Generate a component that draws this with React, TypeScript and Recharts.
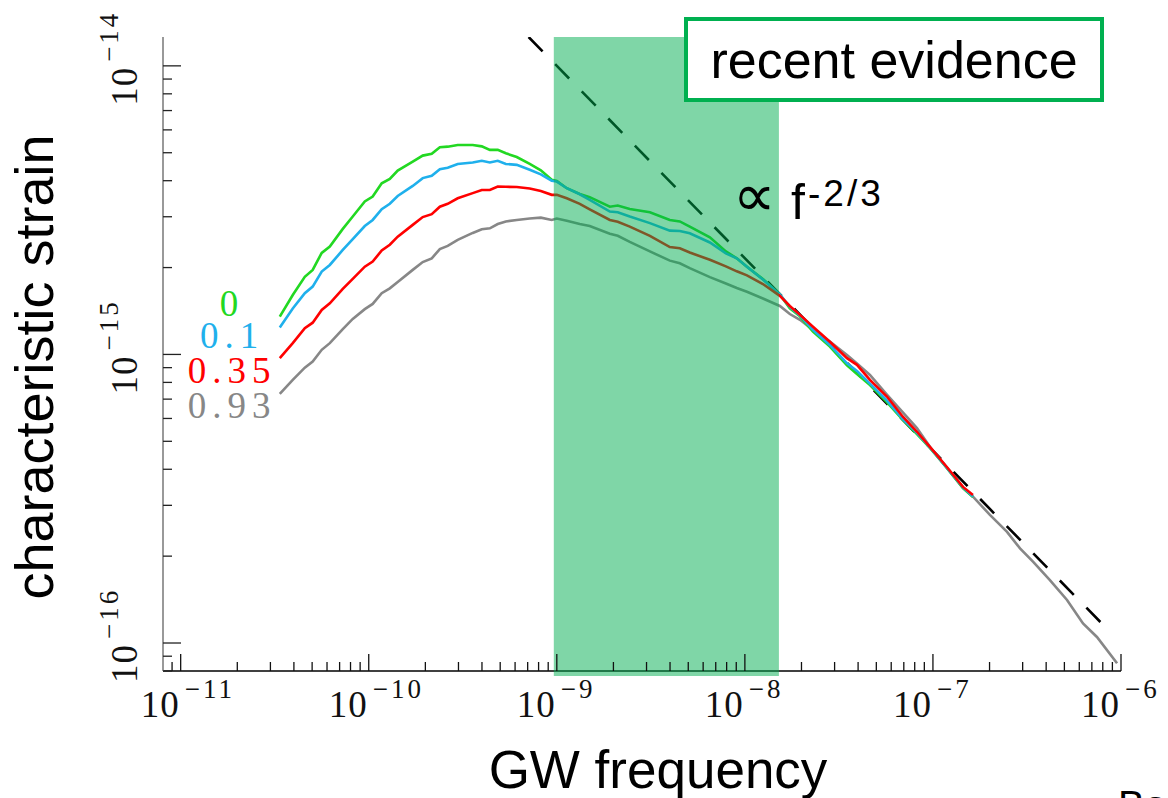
import React from "react";
import { ComposedChart, Line, XAxis, YAxis, ReferenceArea } from "recharts";

// values, stored as log10 (frequency in Hz, characteristic strain)
const logFreq = [
  -10.473, -10.404, -10.34, -10.298, -10.25, -10.207, -10.138, -10.085, -10.021, -9.979,
  -9.931, -9.888, -9.846, -9.766, -9.713, -9.665, -9.622, -9.58, -9.527, -9.447,
  -9.399, -9.356, -9.314, -9.271, -9.213, -9.144, -9.085, -9.027, -9.0, -8.947,
  -8.878, -8.825, -8.718, -8.676, -8.612, -8.505, -8.399, -8.346, -8.293, -8.186,
  -8.101, -8.043, -7.989, -7.904, -7.814, -7.761, -7.707, -7.638, -7.548, -7.457,
  -7.404, -7.335, -7.245, -7.16, -7.085, -7.016, -6.926, -6.84, -6.787, -6.697,
  -6.606, -6.537, -6.468, -6.378, -6.287, -6.202, -6.128, -6.021,
];

// eccentricity 0
const logStrainE0 = [
  -14.869, -14.794, -14.731, -14.707, -14.648, -14.626, -14.565, -14.522, -14.47, -14.453,
  -14.407, -14.392, -14.363, -14.332, -14.311, -14.305, -14.282, -14.28, -14.274, -14.274,
  -14.279, -14.291, -14.291, -14.303, -14.316, -14.34, -14.362, -14.395, -14.399, -14.424,
  -14.444, -14.455, -14.488, -14.484, -14.496, -14.507, -14.534, -14.539, -14.557, -14.594,
  -14.643, -14.667, -14.696, -14.739, -14.792, -14.84, -14.868, -14.921, -14.973, -15.038,
  -15.068, -15.106, -15.165, -15.227, -15.276, -15.324, -15.393, -15.463, -15.494,
];

// eccentricity 0.1
const logStrainE01 = [
  -14.907, -14.841, -14.788, -14.765, -14.713, -14.69, -14.638, -14.6, -14.555, -14.534,
  -14.497, -14.478, -14.451, -14.416, -14.389, -14.381, -14.358, -14.353, -14.34, -14.335,
  -14.329, -14.335, -14.329, -14.34, -14.343, -14.36, -14.376, -14.398, -14.401, -14.424,
  -14.445, -14.464, -14.505, -14.507, -14.522, -14.545, -14.571, -14.572, -14.58, -14.612,
  -14.65, -14.667, -14.696, -14.74, -14.792, -14.835, -14.865, -14.915, -14.967, -15.031,
  -15.057, -15.101, -15.159, -15.224, -15.272, -15.322, -15.392, -15.461, -15.492,
];

// eccentricity 0.35
const logStrainE035 = [
  -15.013, -14.961, -14.909, -14.89, -14.846, -14.823, -14.773, -14.738, -14.696, -14.678,
  -14.64, -14.62, -14.592, -14.551, -14.524, -14.514, -14.488, -14.478, -14.459, -14.441,
  -14.43, -14.43, -14.418, -14.419, -14.42, -14.425, -14.434, -14.447, -14.447, -14.459,
  -14.478, -14.497, -14.534, -14.54, -14.557, -14.589, -14.628, -14.632, -14.647, -14.672,
  -14.695, -14.712, -14.726, -14.756, -14.797, -14.832, -14.863, -14.904, -14.956, -15.013,
  -15.036, -15.088, -15.146, -15.216, -15.268, -15.32, -15.39, -15.459, -15.487,
];

// eccentricity 0.93
const logStrainE093 = [
  -15.137, -15.088, -15.046, -15.025, -14.984, -14.961, -14.912, -14.877, -14.843, -14.825,
  -14.788, -14.771, -14.749, -14.707, -14.68, -14.667, -14.635, -14.624, -14.603, -14.579,
  -14.566, -14.563, -14.548, -14.539, -14.534, -14.529, -14.526, -14.534, -14.529, -14.537,
  -14.548, -14.555, -14.582, -14.589, -14.61, -14.643, -14.675, -14.684, -14.701, -14.732,
  -14.754, -14.77, -14.783, -14.806, -14.832, -14.86, -14.88, -14.915, -14.955, -15.002,
  -15.031, -15.071, -15.139, -15.201, -15.255, -15.32, -15.393, -15.463, -15.493, -15.556,
  -15.615, -15.672, -15.718, -15.782, -15.851, -15.932, -15.979, -16.07,
];

// the f^-2/3 reference line, end points
const logFreqPowerLaw = [-9.15, -6.044];
const logStrainPowerLaw = [-13.9, -15.971];

// "recent evidence" band
const logBandFreq = [-9.016, -7.819];
const logBandStrain = [-16.114, -13.9];

const logFreqDomain = [-11.094, -6];
const logStrainDomain = [-16.097, -13.9];

const freqMajorExp = [-11, -10, -9, -8, -7, -6];
const strainMajorExp = [-16, -15, -14];
const minorMultipliers = [2, 3, 4, 5, 6, 7, 8, 9];

const seriesLabels = ["0", "0.1", "0.35", "0.93"];
const seriesColors = ["#22d822", "#1fb0ec", "#ff0000", "#878787"];

const SERIF = "'Liberation Serif', 'DejaVu Serif', serif";
const SANS = "'Liberation Sans', Arial, 'DejaVu Sans', sans-serif";

const pow = (e: number) => Math.pow(10, e);

const toPoints = (lf: number[], lh: number[]) =>
  lh.map((h, i) => ({ f: pow(lf[i]), h: pow(h) }));

const logTicks = (majors: number[], lo: number, hi: number) => {
  const out: number[] = [];
  for (let n = majors[0] - 1; n <= majors[majors.length - 1]; n++) {
    out.push(pow(n));
    minorMultipliers.forEach((k) => out.push(k * pow(n)));
  }
  return out.filter((v) => v > pow(lo) * 1.0001 && v < pow(hi) * 1.0001);
};

const xTicks = logTicks(freqMajorExp, logFreqDomain[0], logFreqDomain[1]);
const yTicks = logTicks(strainMajorExp, logStrainDomain[0], logStrainDomain[1]);

const isMajor = (v: number) => {
  const l = Math.log10(v);
  return Math.abs(l - Math.round(l)) < 1e-6;
};

const expText = (v: number) => "\u2212" + Math.abs(Math.round(Math.log10(v)));

function BottomTick(props: any) {
  const { x, y, payload } = props;
  const major = isMajor(payload.value);
  return (
    <g>
      <line x1={x} x2={x} y1={y} y2={y - (major ? 17 : 9)} stroke="#111" strokeWidth={1.3} />
      {major && (
        <g fill="#111" fontFamily={SERIF}>
          <text x={x - 1} y={y + 46} textAnchor="end" fontSize={37} letterSpacing={1}>10</text>
          <text x={x + 4} y={y + 27} textAnchor="start" fontSize={27} letterSpacing={3}>
            {expText(payload.value)}
          </text>
        </g>
      )}
    </g>
  );
}

function TopTick(props: any) {
  const { x, y, payload } = props;
  const major = isMajor(payload.value);
  return <line x1={x} x2={x} y1={y} y2={y + (major ? 17 : 9)} stroke="#333" strokeWidth={1.3} />;
}

function LeftTick(props: any) {
  const { x, y, payload } = props;
  const major = isMajor(payload.value);
  return (
    <g>
      <line x1={x} x2={x + (major ? 18 : 9)} y1={y} y2={y} stroke="#222" strokeWidth={1.3} />
      {major && (
        <g transform={`translate(${x - 26}, ${y}) rotate(-90)`} fill="#111" fontFamily={SERIF}>
          <text x={-1} y={0} textAnchor="end" fontSize={37} letterSpacing={1}>10</text>
          <text x={4} y={-19} textAnchor="start" fontSize={27} letterSpacing={3}>
            {expText(payload.value)}
          </text>
        </g>
      )}
    </g>
  );
}

function RightTick(props: any) {
  const { x, y, payload } = props;
  const major = isMajor(payload.value);
  return <line x1={x} x2={x - (major ? 18 : 9)} y1={y} y2={y} stroke="#111" strokeWidth={1.3} />;
}

const strainSeries = [logStrainE0, logStrainE01, logStrainE035, logStrainE093];
// gray drawn first, red on top
const drawOrder = [3, 0, 1, 2];

export default function App() {
  const xDomain = logFreqDomain.map(pow);
  const yDomain = logStrainDomain.map(pow);
  const legendBaselines = [316, 348, 383, 418];

  return (
    <div style={{ position: "absolute", left: 0, top: 0, width: 1168, height: 798, background: "#fff" }}>
      <ComposedChart width={1168} height={798} margin={{ top: 37, right: 47, bottom: 0, left: 0 }}>
        <XAxis
          xAxisId="bottom"
          dataKey="f"
          type="number"
          scale="log"
          domain={xDomain}
          allowDataOverflow
          ticks={xTicks}
          interval={0}
          height={127}
          tickSize={0}
          tickMargin={0}
          tickLine={false}
          axisLine={{ stroke: "#000", strokeWidth: 1.5 }}
          tick={<BottomTick />}
        />
        <XAxis
          xAxisId="top"
          orientation="top"
          dataKey="f"
          type="number"
          scale="log"
          domain={xDomain}
          allowDataOverflow
          ticks={xTicks}
          interval={0}
          height={0}
          tickSize={0}
          tickMargin={0}
          tickLine={false}
          axisLine={{ stroke: "#777", strokeWidth: 1.5 }}
          tick={<TopTick />}
        />
        <YAxis
          yAxisId="left"
          type="number"
          scale="log"
          domain={yDomain}
          allowDataOverflow
          ticks={yTicks}
          interval={0}
          width={163}
          tickSize={0}
          tickMargin={0}
          tickLine={false}
          axisLine={{ stroke: "#777", strokeWidth: 1.5 }}
          tick={<LeftTick />}
        />
        <YAxis
          yAxisId="right"
          orientation="right"
          type="number"
          scale="log"
          domain={yDomain}
          allowDataOverflow
          ticks={yTicks}
          interval={0}
          width={0}
          tickSize={0}
          tickMargin={0}
          tickLine={false}
          axisLine={{ stroke: "#000", strokeWidth: 1.5 }}
          tick={<RightTick />}
        />

        <Line
          xAxisId="bottom"
          yAxisId="left"
          data={toPoints(logFreqPowerLaw, logStrainPowerLaw)}
          dataKey="h"
          stroke="#000"
          strokeWidth={2.6}
          strokeDasharray="20 18"
          dot={false}
          activeDot={false}
          isAnimationActive={false}
        />

        {drawOrder.map((s) => (
          <Line
            key={s}
            xAxisId="bottom"
            yAxisId="left"
            data={toPoints(logFreq, strainSeries[s])}
            dataKey="h"
            type="linear"
            stroke={seriesColors[s]}
            strokeWidth={2.6}
            dot={false}
            activeDot={false}
            isAnimationActive={false}
          />
        ))}

        <ReferenceArea
          xAxisId="bottom"
          yAxisId="left"
          x1={pow(logBandFreq[0])}
          x2={pow(logBandFreq[1])}
          y1={pow(logBandStrain[0])}
          y2={pow(logBandStrain[1])}
          ifOverflow="visible"
          fill="rgb(0,173,79)"
          fillOpacity={0.5}
          stroke="none"
          zIndex={1000}
        />
      </ComposedChart>

      <svg
        width={1168}
        height={798}
        style={{ position: "absolute", left: 0, top: 0, overflow: "visible", pointerEvents: "none" }}
      >
        <text
          transform="translate(53, 367) rotate(-90)"
          textAnchor="middle"
          fontSize={54}
          fontFamily={SANS}
          fill="#000"
        >
          characteristic strain
        </text>
        <text x={658} y={788} textAnchor="middle" fontSize={53} fontFamily={SANS} fill="#000">
          GW frequency
        </text>

        {seriesLabels.map((lab, i) => (
          <text
            key={lab}
            x={232}
            y={legendBaselines[i]}
            textAnchor="middle"
            fontSize={37}
            letterSpacing={6}
            fontFamily={SERIF}
            fill={seriesColors[i]}
          >
            {lab}
          </text>
        ))}

        <rect x={686} y={19} width={416} height={81} fill="#fff" stroke="#00b050" strokeWidth={4} />
        <text x={894} y={78} textAnchor="middle" fontSize={52} fontFamily={SANS} fill="#000">
          recent evidence
        </text>

        <text x={733} y={216} fontSize={60} fontFamily="'DejaVu Sans', sans-serif" fill="#000">
          {"\u221D"}
        </text>
        <text x={791} y={219} fontSize={50} fontFamily={SANS} fill="#000">
          f
        </text>
        <text x={808} y={206} fontSize={37} letterSpacing={3} fontFamily={SANS} fill="#000">
          -2/3
        </text>

        <text x={1118} y={819} fontSize={40} fontFamily={SANS} fill="#000">
          Ba
        </text>
      </svg>
    </div>
  );
}
